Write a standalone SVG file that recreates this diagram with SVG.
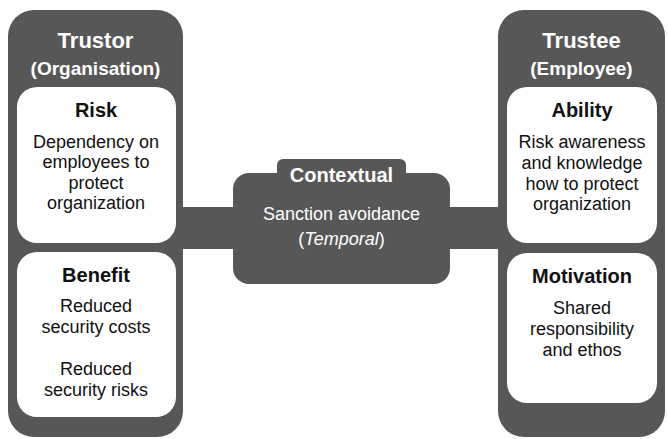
<svg xmlns="http://www.w3.org/2000/svg" width="668" height="439" viewBox="0 0 668 439">
<style>
.dark{fill:#575757}
.card{fill:#ffffff}
text{font-family:"Liberation Sans",Arial,sans-serif;text-anchor:middle}
.title{font-size:22px;font-weight:bold;fill:#ffffff}
.sub{font-size:19px;font-weight:bold;fill:#ffffff}
.label{font-size:20px;font-weight:bold;fill:#111111}
.body{font-size:18px;fill:#111111}
.wbody{font-size:18px;fill:#ffffff}
.wlabel{font-size:20px;font-weight:bold;fill:#ffffff}
</style>
<rect width="668" height="439" fill="#ffffff"/>
<g id="connectors">
<rect class="dark" x="180" y="207" width="60" height="42"/>
<rect class="dark" x="444" y="207" width="58" height="42"/>
</g>
<g id="trustor">
<rect class="dark" x="8" y="10" width="175" height="427" rx="26"/>
<text class="title" x="95.5" y="48">Trustor</text>
<text class="sub" x="95.5" y="75">(Organisation)</text>
</g>
<g id="risk">
<rect class="card" x="17" y="87" width="159" height="156" rx="20"/>
<text class="label" x="96" y="117">Risk</text>
<text class="body" x="96" y="148">Dependency on</text>
<text class="body" x="96" y="168">employees to</text>
<text class="body" x="96" y="189">protect</text>
<text class="body" x="96" y="209">organization</text>
</g>
<g id="benefit">
<rect class="card" x="17" y="252" width="159" height="165" rx="20"/>
<text class="label" x="96" y="282">Benefit</text>
<text class="body" x="96" y="312">Reduced</text>
<text class="body" x="96" y="333">security costs</text>
<text class="body" x="96" y="375">Reduced</text>
<text class="body" x="96" y="396">security risks</text>
</g>
<g id="trustee">
<rect class="dark" x="498" y="10" width="167" height="427" rx="26"/>
<text class="title" x="581.5" y="48">Trustee</text>
<text class="sub" x="581.5" y="75">(Employee)</text>
</g>
<g id="ability">
<rect class="card" x="507" y="87" width="150" height="156" rx="20"/>
<text class="label" x="582" y="117">Ability</text>
<text class="body" x="582" y="148">Risk awareness</text>
<text class="body" x="582" y="169">and knowledge</text>
<text class="body" x="582" y="190">how to protect</text>
<text class="body" x="582" y="210">organization</text>
</g>
<g id="motivation">
<rect class="card" x="507" y="253" width="150" height="150" rx="20"/>
<text class="label" x="582" y="283">Motivation</text>
<text class="body" x="582" y="314">Shared</text>
<text class="body" x="582" y="335">responsibility</text>
<text class="body" x="582" y="356">and ethos</text>
</g>
<g id="contextual">
<rect class="dark" x="277" y="159" width="129" height="40" rx="6"/>
<rect class="dark" x="233" y="173" width="217" height="111" rx="16"/>
<text class="wlabel" x="341.5" y="182">Contextual</text>
<text class="wbody" x="341.5" y="220">Sanction avoidance</text>
<text class="wbody" x="341.5" y="245">(<tspan font-style="italic">Temporal</tspan>)</text>
</g>
</svg>
